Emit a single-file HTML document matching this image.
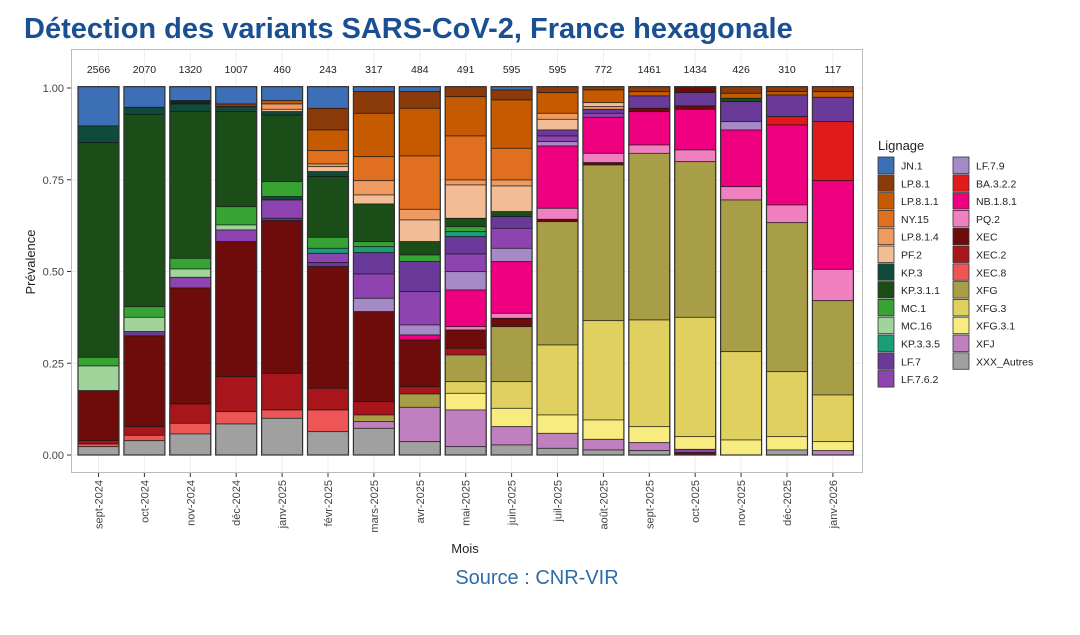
<!DOCTYPE html>
<html><head><meta charset="utf-8">
<style>
html,body{margin:0;padding:0;background:#fff;width:1080px;height:635px;overflow:hidden;}
svg{display:block;font-family:"Liberation Sans",Arial,sans-serif;}
</style></head>
<body>
<svg id="s" width="1080" height="635" xmlns="http://www.w3.org/2000/svg"></svg>
<script>
const C={JN:"#3C6FB6",LP81:"#8B3A0A",LP811:"#C55A00",NY15:"#E07020",LP814:"#EE9A60",PF2:"#F2BD94",KP3:"#0F4A3A",KP311:"#1B4D18",MC1:"#36A332",MC16:"#A0D49A",KP335:"#1A9E78",LF7:"#6A3A9A",LF762:"#8E44B0",LF79:"#A68AC8",BA:"#E31A1C",NB:"#EE0080",PQ2:"#F080C0",XEC:"#6E0C0C",XEC2:"#A8151A",XEC8:"#EE5555",XFG:"#A89E48",XFG3:"#E0D060",XFG31:"#F8EC80",XFJ:"#C080C0",GR:"#A0A0A0",BK:"#222222"};
const B=[
[[138,"JN"],[188,"KP3"],[832,"KP311"],[858,"MC1"],[932,"MC16"],[1082,"XEC"],[1092,"XEC2"],[1100,"XEC8"],[1125,"GR"]],
[[82,"JN"],[103,"KP3"],[680,"KP311"],[712,"MC1"],[755,"MC16"],[768,"LF7"],[1040,"XEC"],[1066,"XEC2"],[1082,"XEC8"],[1125,"GR"]],
[[62,"JN"],[72,"BK"],[95,"KP3"],[535,"KP311"],[567,"MC1"],[592,"MC16"],[624,"LF762"],[972,"XEC"],[1030,"XEC2"],[1062,"XEC8"],[1125,"GR"]],
[[72,"JN"],[80,"LP81"],[95,"KP3"],[380,"KP311"],[435,"MC1"],[450,"MC16"],[485,"LF762"],[890,"XEC"],[995,"XEC2"],[1032,"XEC8"],[1125,"GR"]],
[[62,"JN"],[72,"LP811"],[88,"LP814"],[95,"PF2"],[105,"KP3"],[305,"KP311"],[350,"MC1"],[360,"KP3"],[415,"LF762"],[422,"LF7"],[880,"XEC"],[990,"XEC2"],[1015,"XEC8"],[1125,"GR"]],
[[85,"JN"],[150,"LP81"],[212,"LP811"],[252,"NY15"],[260,"LP814"],[275,"PF2"],[290,"KP3"],[472,"KP311"],[505,"MC1"],[520,"KP335"],[548,"LF762"],[560,"LF7"],[925,"XEC"],[990,"XEC2"],[1055,"XEC8"],[1125,"GR"]],
[[35,"JN"],[100,"LP81"],[230,"LP811"],[302,"NY15"],[345,"LP814"],[372,"PF2"],[485,"KP311"],[500,"MC1"],[518,"KP335"],[582,"LF7"],[655,"LF762"],[695,"LF79"],[965,"XEC"],[1005,"XEC2"],[1025,"XFG"],[1045,"XFJ"],[1125,"GR"]],
[[35,"JN"],[85,"LP81"],[228,"LP811"],[388,"NY15"],[420,"LP814"],[485,"PF2"],[525,"KP311"],[545,"MC1"],[635,"LF7"],[735,"LF762"],[765,"LF79"],[780,"NB"],[920,"XEC"],[942,"XEC2"],[982,"XFG"],[1085,"XFJ"],[1125,"GR"]],
[[50,"LP81"],[168,"LP811"],[300,"NY15"],[315,"LP814"],[415,"PF2"],[440,"KP311"],[455,"MC1"],[470,"KP335"],[522,"LF7"],[575,"LF762"],[630,"LF79"],[740,"NB"],[750,"PQ2"],[805,"XEC"],[825,"XEC2"],[905,"XFG"],[940,"XFG3"],[990,"XFG31"],[1100,"XFJ"],[1125,"GR"]],
[[30,"JN"],[60,"LP81"],[205,"LP811"],[300,"NY15"],[318,"LP814"],[395,"PF2"],[410,"KP311"],[445,"LF7"],[505,"LF762"],[545,"LF79"],[700,"NB"],[715,"PQ2"],[740,"XEC"],[905,"XFG"],[985,"XFG3"],[1040,"XFG31"],[1095,"XFJ"],[1125,"GR"]],
[[38,"LP81"],[100,"LP811"],[118,"LP814"],[150,"PF2"],[168,"LF7"],[185,"LF762"],[198,"LF79"],[385,"NB"],[418,"PQ2"],[425,"XEC"],[795,"XFG"],[1005,"XFG3"],[1060,"XFG31"],[1105,"XFJ"],[1125,"GR"]],
[[30,"LP81"],[68,"LP811"],[80,"PF2"],[88,"LP814"],[100,"LF7"],[112,"LF762"],[220,"NB"],[248,"PQ2"],[255,"XEC"],[722,"XFG"],[1020,"XFG3"],[1078,"XFG31"],[1110,"XFJ"],[1125,"GR"]],
[[35,"LP81"],[48,"LP811"],[85,"LF7"],[95,"XEC"],[195,"NB"],[220,"PQ2"],[720,"XFG"],[1040,"XFG3"],[1088,"XFG31"],[1112,"XFJ"],[1125,"GR"]],
[[38,"XEC"],[78,"LF7"],[88,"XEC"],[210,"NB"],[245,"PQ2"],[712,"XFG"],[1070,"XFG3"],[1108,"XFG31"],[1118,"LF762"],[1125,"XEC"]],
[[40,"LP81"],[55,"LP811"],[65,"KP311"],[125,"LF7"],[150,"LF79"],[320,"NB"],[360,"PQ2"],[815,"XFG"],[1080,"XFG3"],[1125,"XFG31"]],
[[35,"LP81"],[45,"LP811"],[110,"LF7"],[135,"BA"],[375,"NB"],[428,"PQ2"],[875,"XFG"],[1070,"XFG3"],[1110,"XFG31"],[1125,"GR"]],
[[35,"LP81"],[52,"LP811"],[125,"LF7"],[302,"BA"],[568,"NB"],[662,"PQ2"],[945,"XFG"],[1085,"XFG3"],[1112,"XFG31"],[1125,"XFJ"]]];
const counts=[2566,2070,1320,1007,460,243,317,484,491,595,595,772,1461,1434,426,310,117];
const months=["sept-2024","oct-2024","nov-2024","déc-2024","janv-2025","févr-2025","mars-2025","avr-2025","mai-2025","juin-2025","juil-2025","août-2025","sept-2025","oct-2025","nov-2025","déc-2025","janv-2026"];
let h='';
h+='<text x="24" y="38" font-size="29" font-weight="bold" fill="#1B4F93">Détection des variants SARS-CoV-2, France hexagonale</text>';
h+='<rect x="71.5" y="49.5" width="791" height="423" fill="#fff" stroke="#bbb" stroke-width="1"/>';
const Y=v=>455-v*367;
[0,0.25,0.5,0.75,1].forEach(v=>{h+=`<line x1="72" x2="862" y1="${Y(v)}" y2="${Y(v)}" stroke="#eee"/>`;h+=`<line x1="67" x2="71" y1="${Y(v)}" y2="${Y(v)}" stroke="#333"/>`;h+=`<text x="64" y="${Y(v)+4}" font-size="11" text-anchor="end" fill="#444">${v.toFixed(2)}</text>`;});
const P=45.9,W=41,X0=78;
B.forEach((bar,i)=>{const x=X0+i*P,cx=x+W/2;
h+=`<line x1="${cx}" x2="${cx}" y1="50" y2="472" stroke="#eee"/>`;
let prev=20;
bar.forEach(([e,c])=>{const y0=80+prev/3,y1=80+e/3;h+=`<rect x="${x}" y="${y0}" width="${W}" height="${y1-y0}" fill="${C[c]}" stroke="#111" stroke-opacity="0.75" stroke-width="0.8"/>`;prev=e;});
h+=`<rect x="${x}" y="${80+20/3}" width="${W}" height="${(1125-20)/3}" fill="none" stroke="#333" stroke-width="1.2"/>`;
h+=`<text x="${cx}" y="73" font-size="10.5" text-anchor="middle" fill="#222">${counts[i]}</text>`;
h+=`<line x1="${cx}" x2="${cx}" y1="473" y2="477" stroke="#333"/>`;
h+=`<text transform="translate(${cx+4},480) rotate(-90)" font-size="11" text-anchor="end" fill="#444">${months[i]}</text>`;
});
h+='<text x="465" y="553" font-size="13" text-anchor="middle" fill="#222">Mois</text>';
h+='<text transform="translate(35,262) rotate(-90)" font-size="13" text-anchor="middle" fill="#222">Prévalence</text>';
h+='<text x="537" y="584" font-size="20" text-anchor="middle" fill="#2F6BA8">Source : CNR-VIR</text>';
h+='<text x="878" y="150" font-size="13" fill="#222">Lignage</text>';
const L1=[["JN.1","JN"],["LP.8.1","LP81"],["LP.8.1.1","LP811"],["NY.15","NY15"],["LP.8.1.4","LP814"],["PF.2","PF2"],["KP.3","KP3"],["KP.3.1.1","KP311"],["MC.1","MC1"],["MC.16","MC16"],["KP.3.3.5","KP335"],["LF.7","LF7"],["LF.7.6.2","LF762"]];
const L2=[["LF.7.9","LF79"],["BA.3.2.2","BA"],["NB.1.8.1","NB"],["PQ.2","PQ2"],["XEC","XEC"],["XEC.2","XEC2"],["XEC.8","XEC8"],["XFG","XFG"],["XFG.3","XFG3"],["XFG.3.1","XFG31"],["XFJ","XFJ"],["XXX_Autres","GR"]];
[[L1,878,901],[L2,953,976]].forEach(([L,kx,tx])=>L.forEach(([n,c],j)=>{const y=157+j*17.8;h+=`<rect x="${kx}" y="${y}" width="16" height="16.5" fill="${C[c]}" stroke="#333" stroke-width="0.8"/>`;h+=`<text x="${tx}" y="${y+12.5}" font-size="10.5" fill="#222">${n}</text>`;}));
document.getElementById('s').innerHTML=h;
</script>
</body></html>
